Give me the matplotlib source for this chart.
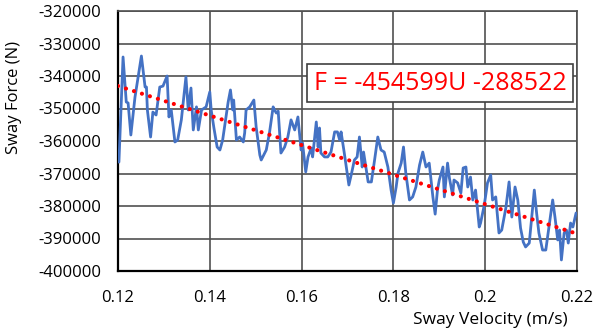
import numpy as np
import matplotlib
matplotlib.use("Agg")
import matplotlib.pyplot as plt

plt.rcParams['font.family'] = ['Open Sans', 'DejaVu Sans']

# measured sway force against sway velocity
velocity = [
    0.1202, 0.1211, 0.1218, 0.1222, 0.1228, 0.1237, 0.1251, 0.1259, 0.1262, 0.1264,
    0.1271, 0.1276, 0.1283, 0.1291, 0.1298, 0.1307, 0.1311, 0.1316, 0.1324, 0.1330,
    0.1338, 0.1348, 0.1353, 0.1359, 0.1364, 0.1371, 0.1375, 0.1382, 0.1392, 0.1400,
    0.1403, 0.1409, 0.1416, 0.1422, 0.1428, 0.1440, 0.1445, 0.1450, 0.1452, 0.1458,
    0.1465, 0.1473, 0.1476, 0.1479, 0.1487, 0.1496, 0.1501, 0.1509, 0.1512, 0.1523,
    0.1530, 0.1538, 0.1541, 0.1545, 0.1549, 0.1555, 0.1563, 0.1570, 0.1577, 0.1585,
    0.1592, 0.1599, 0.1602, 0.1609, 0.1614, 0.1621, 0.1624, 0.1632, 0.1636, 0.1639,
    0.1642, 0.1650, 0.1657, 0.1664, 0.1672, 0.1678, 0.1683, 0.1686, 0.1693, 0.1703,
    0.1709, 0.1715, 0.1721, 0.1726, 0.1732, 0.1735, 0.1745, 0.1752, 0.1759, 0.1766,
    0.1773, 0.1780, 0.1788, 0.1795, 0.1800, 0.1806, 0.1810, 0.1817, 0.1822, 0.1827,
    0.1835, 0.1842, 0.1849, 0.1857, 0.1864, 0.1871, 0.1878, 0.1886, 0.1891, 0.1896,
    0.1900, 0.1908, 0.1911, 0.1918, 0.1922, 0.1929, 0.1932, 0.1940, 0.1947, 0.1952,
    0.1958, 0.1962, 0.1968, 0.1973, 0.1979, 0.1987, 0.1990, 0.1998, 0.2005, 0.2012,
    0.2016, 0.2023, 0.2030, 0.2036, 0.2045, 0.2052, 0.2058, 0.2065, 0.2071, 0.2077,
    0.2083, 0.2088, 0.2096, 0.2107, 0.2112, 0.2117, 0.2125, 0.2132, 0.2139, 0.2147,
    0.2152, 0.2158, 0.2162, 0.2166, 0.2172, 0.2177, 0.2181, 0.2186, 0.2191, 0.2198,
]
force = [
    -366500, -334150, -348000, -348300, -358150, -346500, -333850, -343400, -343400, -350450,
    -358770, -351100, -352000, -343400, -343100, -340000, -352600, -350450, -360300, -359700,
    -353500, -340300, -350450, -343700, -356600, -349500, -356600, -350450, -349500, -344900,
    -350450, -356000, -361850, -362770, -359700, -348000, -344300, -350450, -347400, -359700,
    -358770, -360300, -357500, -350450, -349500, -347400, -355700, -364300, -365850, -362770,
    -357500, -349500, -350450, -351400, -350800, -363700, -361850, -358770, -353500, -356600,
    -352600, -362770, -360600, -369500, -364900, -362150, -364900, -354150, -361850, -356000,
    -363700, -364900, -364900, -363400, -357200, -357200, -359700, -357200, -363700, -373540,
    -369850, -365850, -364900, -358770, -368000, -363400, -372600, -372600, -365850, -358770,
    -362770, -363400, -368000, -375100, -379100, -374150, -369850, -366800, -361850, -369850,
    -378150, -377200, -374150, -367400, -363400, -368000, -366800, -377200, -382500, -375100,
    -372000, -368000, -377200, -366800, -371400, -376600, -372000, -372900, -376000, -368300,
    -368000, -374150, -371100, -378150, -375100, -386460, -385200, -379700, -372900, -370450,
    -378150, -377200, -388300, -387400, -380600, -372600, -383400, -374150, -378150, -386770,
    -391100, -392600, -391400, -375100, -382150, -388300, -393550, -393550, -386460, -378150,
    -383400, -390450, -387400, -396600, -388300, -387400, -391400, -385250, -386460, -382150,
]

# linear fit coefficients
slope = -454599
intercept = -288522

x_ticks = [0.12, 0.14, 0.16, 0.18, 0.2, 0.22]
x_tick_labels = ['0.12', '0.14', '0.16', '0.18', '0.2', '0.22']
y_ticks = np.arange(-400000, -319999, 10000)

fig = plt.figure(figsize=(5.97, 3.31), dpi=100)
ax = fig.add_axes([118 / 597, 1 - 271 / 331, 459 / 597, 260 / 331])

ax.plot(velocity, force, color='#4472C4', lw=2.0, zorder=3,
        solid_joinstyle='round', solid_capstyle='round')

fit_x = np.array([0.12, 0.22])
ax.plot(fit_x, slope * fit_x + intercept, color='red', lw=3.0,
        linestyle=(0, (0.01, 2.0)), dash_capstyle='round', zorder=4)

ax.set_xlim(0.12, 0.22)
ax.set_ylim(-400000, -320000)
ax.set_xticks(x_ticks)
ax.set_xticklabels(x_tick_labels)
ax.set_yticks(y_ticks)
ax.set_yticklabels([str(v) for v in y_ticks])
ax.tick_params(length=0, labelsize=12, colors='black')
ax.tick_params(axis='y', pad=12)
ax.tick_params(axis='x', pad=14)

ax.grid(True, color='#505050', lw=1.2)
ax.set_axisbelow(True)
for side in ['top', 'right']:
    ax.spines[side].set_color('#505050')
    ax.spines[side].set_linewidth(1.2)
for side in ['left', 'bottom']:
    ax.spines[side].set_color('black')
    ax.spines[side].set_linewidth(1.6)

fig.text(490 / 597, 1 - 320 / 331, 'Sway Velocity (m/s)', fontsize=12.5,
         ha='center', va='center')
fig.text(14 / 597, 1 - 97 / 331, 'Sway Force (N)', fontsize=12,
         rotation=90, ha='center', va='center')

ax.text(440 / 597 * 597 / 459 - 118 / 459, 1 - (83 - 11) / 260,
        'F = -454599U -288522', transform=ax.transAxes, fontsize=18,
        color='red', ha='center', va='center', zorder=5,
        bbox=dict(boxstyle='square,pad=0.25', fc='white', ec='#404040', lw=1.2))

fig.savefig('out.png', dpi=100)
